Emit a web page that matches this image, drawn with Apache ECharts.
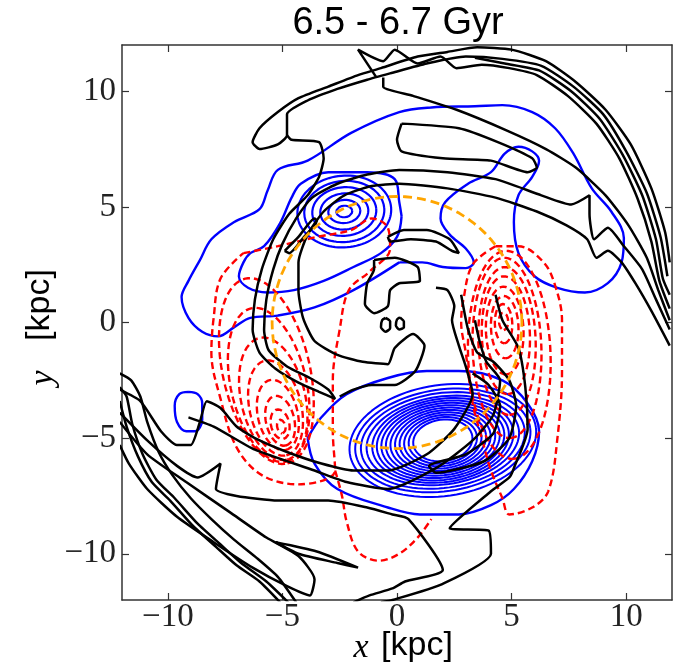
<!DOCTYPE html>
<html>
<head>
<meta charset="utf-8">
<script src="https://cdn.jsdelivr.net/npm/echarts@6/dist/echarts.min.js"></script>
<style>
  html, body { margin: 0; background: #fff; }
  #chart { width: 673px; height: 669px; }
</style>
</head>
<body>
<div id="chart"></div>
<script>
// axis ticks (kpc)
const tickValues = [-10, -5, 0, 5, 10];

// ---- blue contours (young stars) ----
const blueOuter = [[0.1,2.6],[1.1,2.6],[2.0,2.4],[3.0,2.35],[3.35,2.6],[3.0,3.2],[2.3,3.8],[1.9,4.5],[2.1,5.2],[3.1,6.0],[4.1,6.5],[4.7,7.3],[5.3,7.6],[5.9,7.4],[6.2,7.0],[5.9,6.3],[5.3,5.5],[5.1,4.35],[5.3,3.0],[6.0,2.0],[7.0,1.5],[8.2,1.3],[9.2,1.7],[9.8,2.6],[9.9,3.65],[9.35,4.8],[8.5,5.8],[7.7,7.3],[6.9,8.4],[5.9,9.1],[4.6,9.4],[3.4,9.35],[1.5,9.3],[0.1,9.1],[-2.0,8.2],[-3.9,7.0],[-5.2,6.6],[-5.65,5.7],[-6.0,4.9],[-7.1,4.35],[-8.1,3.6],[-8.6,2.7],[-9.1,1.8],[-9.4,1.1],[-9.1,0.2],[-8.5,-0.4],[-7.8,-0.6],[-7.1,-0.2],[-6.4,0.2],[-5.2,0.3],[-3.6,0.65],[-1.9,1.4],[0.1,2.6]];
const blueUpperLoop = [[0.2,4.6],[0.1,5.2],[-0.1,6.2],[-1.3,6.5],[-3.0,6.5],[-4.2,6.0],[-4.6,5.4],[-5.1,4.3],[-5.8,3.3],[-6.4,3.0],[-6.7,2.6],[-6.9,2.0],[-6.5,1.5],[-5.65,1.3],[-4.5,1.4],[-3.2,1.8],[-1.9,2.4],[-0.7,3.0],[0,3.7],[0.2,4.6]];
const blueSmall = [[-9.1,-3.0],[-8.7,-3.1],[-8.5,-3.5],[-8.5,-4.2],[-8.8,-4.7],[-9.2,-4.7],[-9.6,-4.3],[-9.7,-3.6],[-9.5,-3.1],[-9.1,-3.0]];
const blueLowerOuter = [[-3.9,-5.0],[-3.3,-4.1],[-2.2,-3.1],[-0.4,-2.4],[1.3,-2.1],[2.7,-2.1],[4.6,-2.5],[5.7,-3.5],[6.2,-4.7],[5.9,-6.0],[5.1,-7.2],[4.1,-7.9],[2.7,-8.3],[1.0,-8.3],[-0.4,-8.0],[-2.6,-7.2],[-3.6,-6.1],[-3.9,-5.0]];
// nested peak rings: centre, semi-axes, tilt
const blueUpperCentre = [-2.3, 4.8];
const blueUpperA = [0.35, 0.7, 1.05, 1.4, 1.75, 2.05];
const blueUpperB = [0.25, 0.5, 0.78, 1.05, 1.32, 1.55];
const blueLowerCentre = [2.0, -5.1];
const blueLowerA = [1.3, 1.5, 1.7, 1.9, 2.1, 2.3, 2.5, 2.7, 2.9, 3.1, 3.35, 3.6, 3.85, 4.1];
const blueLowerB = [0.9, 1.0, 1.1, 1.2, 1.3, 1.4, 1.5, 1.6, 1.7, 1.8, 1.9, 2.05, 2.2, 2.4];

// ---- red dashed contours ----
const redLeftOuter = [[-6.7,3.0],[-5.2,3.3],[-3.5,3.7],[-2.0,4.0],[-1.1,4.5],[-0.4,4.1],[-0.3,3.2],[-1.2,2.2],[-2.1,1.4],[-2.5,-0.3],[-2.8,-2.5],[-2.8,-4.7],[-2.7,-6.4],[-4.3,-7.0],[-5.9,-6.6],[-7.0,-5.4],[-7.7,-3.3],[-8.1,-1.3],[-8.0,0.2],[-7.7,1.9],[-6.7,3.0]];
const redBottom = [[-2.7,-6.4],[-2.4,-7.5],[-2.2,-8.6],[-1.7,-9.9],[-0.8,-10.3],[0.1,-10.0],[0.9,-9.3],[1.5,-8.5]];
const redRightOuter = [[4.3,3.3],[5.3,3.3],[6.4,2.6],[6.9,1.6],[7.2,0.1],[7.2,-2.1],[7.0,-5.0],[6.6,-7.3],[5.9,-8.0],[4.9,-8.3],[4.6,-7.6],[4.1,-6.4],[3.7,-5.0],[3.3,-3.5],[3.0,-1.3],[2.8,0],[2.9,1.0],[3.3,2.5],[4.3,3.3]];
const redLeftCx = [-5.7, -5.6, -5.4, -5.3, -5.2, -5.1, -5.1, -5.05];
const redLeftCy = [-2.1, -2.7, -3.3, -3.7, -4.0, -4.25, -4.4, -4.5];
const redLeftA = [4.1, 3.4, 2.7, 2.1, 1.55, 1.1, 0.65, 0.3];
const redLeftB = [1.9, 1.65, 1.4, 1.13, 0.87, 0.62, 0.4, 0.18];
const redRightCx = [4.9, 4.8, 4.8, 4.75, 4.7, 4.7, 4.65, 4.65];
const redRightCy = [-1.4, -1.1, -0.8, -0.55, -0.35, -0.2, -0.05, 0.05];
const redRightA = [4.5, 3.9, 3.2, 2.55, 1.9, 1.35, 0.85, 0.38];
const redRightB = [1.8, 1.5, 1.25, 1.05, 0.82, 0.6, 0.38, 0.2];

// ---- orange dashed circle ----
const orangeRadius = 5.45;

// ---- black contours (old stars) ----
const blackOuterArc = [[11.9,2.6],[11.7,3.9],[11.1,5.8],[10.2,7.7],[9.1,9.2],[7.8,10.4],[6.5,11.3],[5.0,11.8],[3.5,11.9],[2.2,11.7],[0.9,11.5],[-0.7,11.0],[-1.7,10.7],[-3.0,10.2],[-4.3,9.7],[-5.2,9.1],[-6.0,8.4],[-6.3,7.8],[-6.0,7.5],[-5.2,7.7],[-4.8,8.1],[-4.8,9.0],[-3.9,9.6],[-2.6,10.1],[-1.3,10.5],[-0.2,10.8],[1.3,11.2],[3.0,11.5],[4.6,11.4],[6.3,11.1],[7.7,10.2],[9.0,9.0],[10.0,7.4],[10.9,5.6],[11.5,3.7],[11.8,2.0]];
const blackBand3 = [[3.4,11.45],[4.7,11.2],[6.2,10.9],[7.6,10.0],[8.85,8.8],[9.85,7.25],[10.7,5.5],[11.3,3.6],[11.6,1.9],[11.9,1.2]];
const blackZigBand = [[-0.9,10.6],[-1.7,11.8],[-0.6,11.3],[-0.1,11.8],[0.9,11.2],[1.9,11.5],[2.6,11.0],[3.7,11.15],[4.9,11.0],[6.1,10.7],[7.45,9.8],[8.7,8.6],[9.7,7.1],[10.5,5.35],[11.1,3.5],[11.45,1.8],[11.9,0.6]];
const blackInner = [[-0.6,10.6],[-0.6,10.2],[0.7,9.8],[2.6,9.2],[4.8,8.3],[6.5,7.5],[7.8,6.7],[9.1,5.5],[10.1,4.2],[10.9,2.8],[11.4,1.4],[11.9,0.1]];
const blackLoop = [[0.2,8.6],[2.7,8.4],[4.4,7.8],[5.9,7.1],[6.1,6.7],[5.7,6.5],[4.1,7.0],[2.0,7.1],[0.2,7.4],[0,7.9],[0.2,8.6]];
const blackArmAB = [[11.9,-0.3],[11.3,1.0],[10.7,2.3],[9.9,3.3],[9.2,4.1],[8.6,3.6],[8.4,4.7],[8.4,5.5],[7.6,5.1],[6.3,5.5],[4.3,6.2],[2.2,6.5],[0.1,6.6],[-1.3,6.4],[-2.6,6.0],[-3.7,5.4],[-4.4,4.5],[-5.0,3.4],[-5.4,2.3],[-5.7,1.0],[-5.8,-0.3],[-5.6,-1.2],[-4.8,-1.9],[-3.8,-2.4],[-3.0,-2.9],[-2.7,-3.3],[-3.4,-3.0],[-4.3,-2.6],[-5.3,-2.0],[-6.0,-1.3],[-6.3,-0.3],[-6.2,1.0],[-5.9,2.3],[-5.4,3.6],[-4.7,4.7],[-3.9,5.5],[-3.4,6.3],[-3.2,7.1],[-3.4,7.8],[-4.6,7.9],[-4.8,8.1]];
const blackArmC = [[11.9,-1.0],[11.1,0.5],[10.4,1.7],[9.8,2.6],[9.2,3.1],[8.7,2.8],[8.3,3.6],[7.4,4.2],[6.1,4.8],[4.3,5.4],[2.2,5.8],[0.1,6.0],[-1.1,5.9],[-2.3,5.5],[-3.2,4.8],[-3.9,3.8],[-4.3,2.6],[-4.3,1.4],[-4.1,0.2],[-3.6,-0.8],[-2.6,-1.4],[-1.5,-1.7],[-0.4,-1.8],[-0.1,-1.1],[0.7,-0.5],[1.2,-1.0],[0.8,-2.1],[-0.1,-2.7],[-1.1,-2.7],[-1.9,-2.9],[-2.5,-3.2]];
const blackBlob = [[-1.0,2.7],[-0.1,2.8],[0.9,2.4],[1.0,1.8],[0.1,1.7],[-0.3,1.4],[-0.4,0.7],[-1.0,0.4],[-1.4,0.8],[-1.3,1.7],[-1.0,2.3],[-1.0,2.7]];
const blackBanana = [[-0.4,3.7],[0.3,4.0],[1.3,4.0],[2.3,3.6],[2.7,3.0],[2.4,3.1],[1.7,3.5],[0.6,3.6],[-0.3,3.5],[-0.4,3.7]];
const blackDotA = [[-0.5,0.2],[-0.3,0.05],[-0.3,-0.25],[-0.5,-0.4],[-0.7,-0.2],[-0.65,0.1],[-0.5,0.2]];
const blackDotB = [[0.13,0.22],[0.3,0.04],[0.3,-0.22],[0.1,-0.3],[-0.05,-0.13],[0,0.13],[0.13,0.22]];
const blackStreak = [[-4.9,3.1],[-4.3,3.7],[-3.6,4.5],[-3.5,4.4],[-4.1,3.65],[-4.7,3.0],[-4.9,3.1]];
const blackLowerA = [[-12.1,-2.9],[-11.2,-3.4],[-10.3,-4.7],[-9.6,-5.3],[-9.0,-5.3],[-8.6,-4.3],[-8.3,-3.4],[-7.7,-3.7],[-7.0,-4.5],[-6.2,-5.0],[-4.8,-5.6],[-3.3,-6.1],[-1.9,-6.4],[-0.4,-6.4],[1.3,-5.7],[2.5,-4.6],[3.3,-3.1],[3.0,-1.9],[2.7,-1.0],[2.4,0.1],[2.5,0.7],[2.2,1.4],[1.7,1.5]];
const blackHook = [[2.8,1.2],[3.1,-0.3],[3.5,-1.3],[4.2,-1.7],[4.9,-2.5],[5.2,-3.6],[4.9,-5.0],[3.8,-6.0],[1.7,-6.5],[1.4,-6.2],[3.0,-5.7],[4.2,-4.8],[4.5,-3.6],[4.0,-2.7],[3.3,-2.2]];
const blackRightZig = [[4.3,1.2],[4.6,0.1],[5.3,-1.1],[5.6,-2.8],[5.7,-4.6],[5.1,-6.3],[4.9,-6.7],[4.1,-7.3],[2.3,-8.9],[4.0,-9.0],[4.1,-10.0],[2.0,-11.3],[-0.2,-12.0],[-0.7,-12.1]];
const blackLowerB = [[-12.1,-3.9],[-10.9,-5.1],[-9.6,-6.2],[-8.7,-6.7],[-7.7,-6.1],[-7.9,-7.2],[-7.0,-7.5],[-5.2,-7.7],[-3.0,-7.7],[-1.3,-8.0],[-0.2,-8.3],[0.5,-8.5],[2.0,-10.7],[0.35,-11.2],[-0.2,-11.5],[-1.2,-11.8],[-1.9,-12.1]];
const blackLowerC = [[-9.1,-4.1],[-8.0,-4.5],[-6.2,-5.5],[-3.6,-6.4],[-2.2,-6.9],[-0.4,-7.2],[1.7,-6.3],[3.3,-5.1],[4.2,-4.0],[4.5,-2.5],[3.9,-1.7],[3.6,-0.8],[3.4,0.1]];
const blackBandOuter = [[-5.1,-12.1],[-6.0,-11.2],[-7.0,-10.5],[-7.9,-9.7],[-8.9,-8.8],[-9.9,-7.7],[-10.7,-6.9],[-11.3,-5.8],[-11.8,-4.5],[-12.1,-3.4]];
const blackBandMid = [[-4.75,-12.1],[-5.7,-11.2],[-6.8,-10.4],[-7.7,-9.6],[-8.7,-8.7],[-9.7,-7.6],[-10.5,-6.8],[-11.1,-5.7],[-11.55,-4.4],[-11.8,-3.2],[-12.1,-2.8]];
const blackBandInner = [[-12.1,-2.2],[-11.6,-2.5],[-11.2,-3.2],[-10.9,-4.3],[-10.4,-5.6],[-9.8,-6.6],[-9.0,-7.6],[-8.1,-8.5],[-7.1,-9.4],[-6.1,-10.2],[-5.2,-11.0],[-4.4,-12.1]];
const blackLongLoop = [[-12.1,-4.3],[-10.9,-5.7],[-9.2,-6.9],[-7.3,-8.2],[-5.7,-9.3],[-4.3,-10.1],[-3.6,-11.1],[-3.8,-11.8],[-4.8,-11.4],[-6.3,-10.6],[-8.0,-9.5],[-9.6,-8.4],[-10.9,-7.2],[-11.7,-6.1],[-12.1,-5.3]];
const blackSliver = [[-5.3,-9.5],[-3.5,-9.9],[-1.7,-10.6],[-2.6,-10.4],[-4.3,-10.0],[-5.3,-9.5]];

function ellipse(cx, cy, a, b, deg) {
  const t = deg * Math.PI / 180;
  const pts = [];
  for (let i = 0; i <= 96; i++) {
    const u = (i / 96) * 2 * Math.PI;
    const ex = a * Math.cos(u), ey = b * Math.sin(u);
    pts.push([cx + ex * Math.cos(t) - ey * Math.sin(t), cy + ex * Math.sin(t) + ey * Math.cos(t)]);
  }
  return pts;
}

function contour(data, color, dash, width, smooth) {
  return {
    type: "line",
    data,
    showSymbol: false,
    symbol: "none",
    silent: true,
    animation: false,
    smooth: smooth || false,
    lineStyle: { color, width: width || 2, type: dash || "solid" },
  };
}

const series = [];
const BLUE = "#0000ff", RED = "#ff0000", BLACK = "#000000", ORANGE = "#ffa500";
const redDash = [7, 4];

[blueOuter, blueUpperLoop, blueSmall, blueLowerOuter].forEach((d) => series.push(contour(d, BLUE, null, 2.4, 0.35)));
blueUpperA.forEach((a, i) => series.push(contour(ellipse(blueUpperCentre[0], blueUpperCentre[1], a, blueUpperB[i], 5), BLUE, null, 2.2)));
blueLowerA.forEach((a, i) => series.push(contour(ellipse(blueLowerCentre[0], blueLowerCentre[1], a, blueLowerB[i], 8), BLUE, null, 2)));

[redLeftOuter, redBottom, redRightOuter].forEach((d) => series.push(contour(d, RED, redDash, 2.4, 0.35)));
redLeftA.forEach((a, i) => series.push(contour(ellipse(redLeftCx[i], redLeftCy[i], a, redLeftB[i], -77), RED, redDash, 2.4)));
redRightA.forEach((a, i) => series.push(contour(ellipse(redRightCx[i], redRightCy[i], a, redRightB[i], -88), RED, redDash, 2.4)));

[blackOuterArc, blackBand3, blackZigBand, blackInner, blackLoop, blackArmAB, blackArmC,
 blackBlob, blackBanana, blackDotA, blackDotB, blackStreak, blackLowerA, blackHook, blackRightZig,
 blackLowerB, blackLowerC, blackBandOuter, blackBandMid, blackBandInner, blackLongLoop, blackSliver]
  .forEach((d) => series.push(contour(d, BLACK, null, 2.5, 0.2)));

series.push(contour(ellipse(0, 0, orangeRadius, orangeRadius, 0), ORANGE, [9, 5], 2.8));

const frame = { show: true, onZero: false, lineStyle: { color: "#333", width: 1.5 } };
const tick = { show: true, inside: true, length: 7, customValues: tickValues, lineStyle: { color: "#333", width: 1.2 } };
const label = {
  customValues: tickValues,
  formatter: (v) => (v < 0 ? "\u2212" + Math.abs(v) : String(v)),
  fontFamily: "Liberation Serif",
  fontSize: 33,
  color: "#222",
};

const chart = echarts.init(document.getElementById("chart"));
chart.setOption({
  backgroundColor: "#fff",
  animation: false,
  grid: { left: 122, right: 1, top: 45, bottom: 69 },
  xAxis: [
    { type: "value", min: -12, max: 12, position: "bottom", axisLine: frame, axisTick: tick,
      axisLabel: { ...label, margin: 1 }, splitLine: { show: false } },
    { type: "value", min: -12, max: 12, position: "top", axisLine: frame, axisTick: tick,
      axisLabel: { show: false }, splitLine: { show: false } },
  ],
  yAxis: [
    { type: "value", min: -12, max: 12, position: "left", axisLine: frame, axisTick: tick,
      axisLabel: { ...label, margin: 6 }, splitLine: { show: false } },
    { type: "value", min: -12, max: 12, position: "right", axisLine: frame, axisTick: tick,
      axisLabel: { show: false }, splitLine: { show: false } },
  ],
  graphic: [
    { type: "text", x: 398, y: 24, style: { text: "6.5 - 6.7 Gyr", font: '38px "Liberation Sans"', fill: "#000", align: "center", verticalAlign: "middle" } },
    { type: "text", x: 361, y: 648, style: { text: "x", font: 'italic 34px "Liberation Serif"', fill: "#000", align: "center", verticalAlign: "middle" } },
    { type: "text", x: 417, y: 646, style: { text: "[kpc]", font: '34px "Liberation Sans"', fill: "#000", align: "center", verticalAlign: "middle" } },
    { type: "text", x: 43, y: 378, rotation: Math.PI / 2, style: { text: "y", font: 'italic 34px "Liberation Serif"', fill: "#000", align: "center", verticalAlign: "middle" } },
    { type: "text", x: 40, y: 305, rotation: Math.PI / 2, style: { text: "[kpc]", font: '34px "Liberation Sans"', fill: "#000", align: "center", verticalAlign: "middle" } },
  ],
  series,
});
</script>
</body>
</html>
